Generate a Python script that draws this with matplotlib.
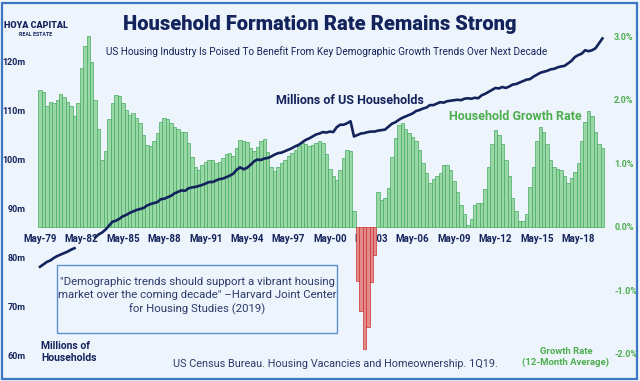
import numpy as np
import matplotlib
matplotlib.use("Agg")
import matplotlib.pyplot as plt
from matplotlib.patches import Rectangle

plt.rcParams['font.family'] = ['Noto Sans Condensed', 'Roboto', 'DejaVu Sans']

# quarterly data, first bar = May-79
tick_labels = ['May-79', 'May-82', 'May-85', 'May-88', 'May-91', 'May-94', 'May-97',
               'May-00', 'May-03', 'May-06', 'May-09', 'May-12', 'May-15', 'May-18']

growth = [2.15, 2.12, 1.90, 1.97, 1.95, 2.00, 2.10, 2.04, 1.97, 1.90,
          1.75, 1.95, 2.50, 2.85, 3.00, 2.60, 2.00, 1.55, 1.05, 1.20,
          1.70, 1.95, 2.08, 2.06, 1.95, 1.85, 1.76, 1.80, 1.72, 1.64,
          1.45, 1.29, 1.28, 1.36, 1.48, 1.65, 1.72, 1.70, 1.63, 1.58,
          1.55, 1.50, 1.50, 1.32, 1.10, 0.95, 0.90, 0.98, 1.03, 1.05,
          1.06, 1.00, 1.02, 1.08, 1.15, 1.16, 1.12, 1.25, 1.37, 1.35,
          1.34, 1.25, 1.20, 1.26, 1.36, 1.38, 1.18, 0.95, 0.88, 0.94,
          1.00, 1.06, 1.12, 1.17, 1.22, 1.27, 1.33, 1.30, 1.27, 1.29,
          1.32, 1.35, 1.33, 1.15, 0.92, 0.80, 0.74, 0.90, 1.08, 1.21,
          1.20, 0.25, -0.85, -1.33, -1.92, -1.58, -0.86, -0.44, 0.55, 0.42,
          0.45, 0.62, 1.10, 1.40, 1.60, 1.64, 1.55, 1.48, 1.42, 1.35,
          1.22, 1.00, 0.85, 0.69, 0.75, 0.80, 0.85, 0.97, 0.98, 0.90,
          0.72, 0.55, 0.35, 0.20, 0.03, 0.13, 0.35, 0.37, 0.38, 0.60,
          0.95, 1.30, 1.53, 1.45, 1.30, 1.05, 0.80, 0.45, 0.25, 0.10,
          0.10, 0.20, 0.63, 0.95, 1.35, 1.58, 1.50, 1.30, 1.06, 0.95,
          0.92, 0.90, 0.80, 0.70, 0.77, 0.86, 1.00, 1.35, 1.65, 1.82,
          1.75, 1.50, 1.30, 1.24]

households = [78.0, 78.5, 79.0, 79.3, 79.8, 80.2, 80.5, 80.8, 81.1, 81.5,
              81.8, np.nan, np.nan, np.nan, np.nan, np.nan, 84.0, 84.6, 85.0, 85.6,
              86.4, 87.2, 87.4, 87.8, 88.3, 88.6, 89.0, 89.3, 89.6, 89.8,
              90.0, 90.5, 90.8, 91.0, 91.2, 91.8, 91.9, 92.2, 92.5, 93.0,
              93.3, 93.6, 93.5, 94.0, 94.2, 94.3, 94.5, 94.7, 95.0, 95.3,
              95.3, 95.6, 95.9, 96.0, 96.3, 96.6, 97.0, 97.8, 98.3, 97.9,
              98.2, 98.8, 99.5, 99.9, 99.8, 100.1, 100.2, 100.5, 100.9, 101.2,
              101.3, 101.6, 101.9, 102.2, 102.6, 102.9, 103.4, 103.9, 104.2, 104.6,
              105.0, 105.2, 105.5, 105.4, 105.6, 105.5, 106.5, 107.0, 107.0, 107.3,
              107.7, 104.6, 104.9, 105.2, 105.3, 105.5, 105.6, 105.6, 105.8, 105.9,
              106.0, 106.6, 107.2, 107.5, 108.0, 108.4, 108.7, 109.0, 109.3, 109.8,
              110.0, 110.3, 110.5, 111.0, 111.0, 111.3, 111.6, 111.5, 111.8, 111.9,
              112.0, 112.1, 112.0, 112.3, 112.4, 112.3, 112.5, 112.4, 113.0, 113.3,
              113.7, 114.1, 114.5, 114.4, 114.7, 114.5, 114.8, 115.2, 115.3, 115.6,
              115.9, 116.2, 116.3, 116.8, 117.2, 117.6, 117.8, 118.0, 118.3, 118.4,
              118.7, 118.9, 119.0, 119.5, 120.0, 120.8, 121.2, 121.5, 122.2, 122.0,
              122.2, 122.6, 123.6, 124.6]

left_ticks = [60, 70, 80, 90, 100, 110, 120]
right_ticks = [-2, -1, 0, 1, 2, 3]

navy = '#13235c'
green_txt = '#4cae4f'
bg = '#eef4fb'

fig = plt.figure(figsize=(6.4, 3.81), dpi=100, facecolor=bg)
ax = fig.add_axes([30/640, 11/381, 580/640, 340/381])
ax.set_facecolor('none')
ax2 = ax.twinx()

q = np.arange(len(growth))
g = np.array(growth)
cols = np.where(g >= 0, '#9ad7a6', '#e58a8a')
edges = np.where(g >= 0, '#44ab5e', '#c8302c')
ax.bar(q, g, width=1.0, color=cols, edgecolor=edges, linewidth=0.5, zorder=2)

# x labels sit just under the zero line (set position first, it resets ticks)
ax.spines['bottom'].set_position(('data', 0))
for s in ax.spines.values():
    s.set_visible(False)
ax.set_xlim(-2.9, 165.2)
ax.set_ylim(-2.252, 3.102)
ax.yaxis.tick_right()
ax.set_yticks(right_ticks)
ax.set_yticklabels(['%.1f%%' % t for t in right_ticks], color=green_txt,
                   fontsize=6.5, fontweight='bold')
ax.tick_params(axis='y', length=0, pad=3)
ax.set_xticks(np.arange(0, 12 * len(tick_labels), 12))
ax.set_xticklabels(tick_labels, color=navy, fontsize=7, fontweight='bold')
ax.tick_params(axis='x', length=0, pad=5)

ax2.plot(q, households, color=navy, lw=1.9, zorder=5)
ax2.set_ylim(56.94, 126.33)
ax2.yaxis.tick_left()
ax2.set_yticks(left_ticks)
ax2.set_yticklabels(['%dm' % t for t in left_ticks], color=navy,
                    fontsize=6.5, fontweight='bold')
ax2.tick_params(axis='y', length=0, pad=3)
for s in ax2.spines.values():
    s.set_visible(False)

# titles and notes
fig.text(320/640, 1 - 24/381, 'Household Formation Rate Remains Strong', ha='center', va='center',
         fontsize=14.5, fontweight='black', color=navy)
fig.text(327/640, 1 - 52/381,
         'US Housing Industry Is Poised To Benefit From Key Demographic Growth Trends Over Next Decade',
         ha='center', va='center', fontsize=7.2, color=navy)
fig.text(350/640, 1 - 100/381, 'Millions of US Households', ha='center', va='center',
         fontsize=9, fontweight='bold', color=navy)
fig.text(515/640, 1 - 117/381, 'Household Growth Rate', ha='center', va='center',
         fontsize=9, fontweight='bold', color=green_txt)

fig.patches.append(Rectangle((57/640, 1 - 333/381), 280/640, 68/381, transform=fig.transFigure,
                             facecolor='none', edgecolor='#5d8fd2', lw=1.0))
fig.text(197/640, 1 - 296/381,
         '"Demographic trends should support a vibrant housing\nmarket over the coming decade" \u2013Harvard Joint Center\nfor Housing Studies (2019)',
         ha='center', va='center', fontsize=8.2, color='#2b3a6b', linespacing=1.35)

fig.text(41/640, 1 - 352/381, 'Millions of\nHouseholds', ha='left', va='center',
         fontsize=7.5, fontweight='bold', color=navy, linespacing=1.2)
fig.text(335/640, 1 - 364/381, 'US Census Bureau. Housing Vacancies and Homeownership. 1Q19.',
         ha='center', va='center', fontsize=7.8, color='#2b3a6b')
fig.text(566/640, 1 - 357/381, 'Growth Rate\n(12-Month Average)', ha='center', va='center',
         fontsize=6.8, fontweight='bold', color=green_txt, linespacing=1.3)

# logo
fig.text(36/640, 1 - 26/381, 'HOYA CAPITAL', ha='center', va='center', fontsize=6.5,
         fontweight='black', color=navy)
fig.text(36/640, 1 - 35/381, 'REAL ESTATE', ha='center', va='center', fontsize=3.8,
         fontweight='bold', color=navy)

fig.patches.append(Rectangle((2/640, 2/381), 635/640, 376/381, transform=fig.transFigure,
                             facecolor='none', edgecolor='#3d77c4', lw=1.6))

fig.savefig('out.png', dpi=100, facecolor=bg)
